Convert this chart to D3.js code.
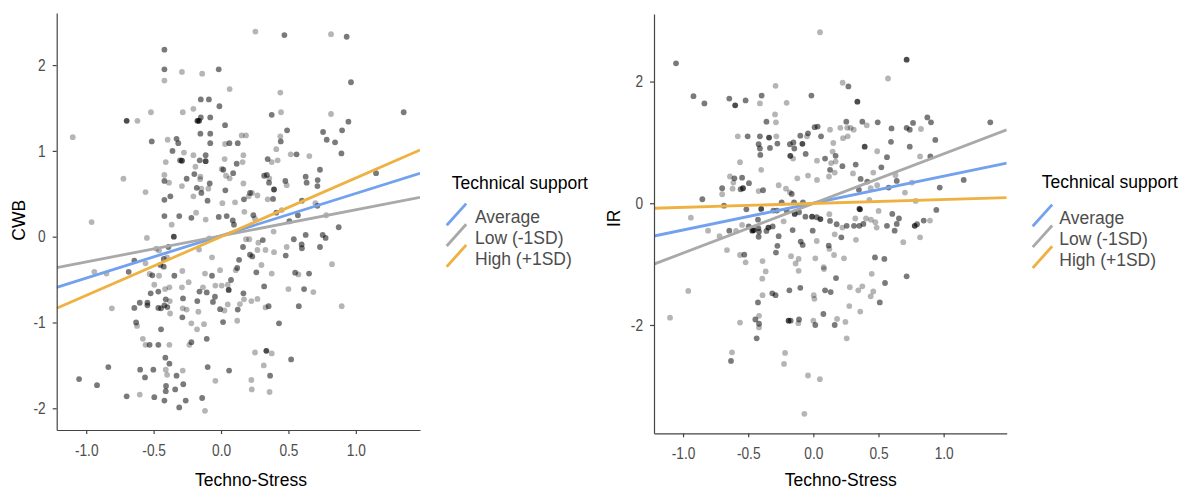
<!DOCTYPE html>
<html><head><meta charset="utf-8">
<script src="https://cdn.jsdelivr.net/npm/d3@7"></script>
<style>body{margin:0;background:#fff} svg{display:block} text{font-family:"Liberation Sans",Arial,sans-serif}</style>
</head><body><svg id="c" width="1193" height="490"></svg>
<script>
// ---------- data ----------
const xTicks = [-1.0, -0.5, 0.0, 0.5, 1.0];
const cwbTicks = [-2, -1, 0, 1, 2];
const irTicks = [-2, 0, 2];
const legendTitle = "Technical support";
const legendLabels = ["Average", "Low (-1SD)", "High (+1SD)"];
const xTitle = "Techno-Stress";
const cwbLineX = [-1.219, 1.476];
const irLineX = [-1.223, 1.484];
const cwbAverage = [-0.59, 0.739];
const cwbLow = [-0.361, 0.459];
const cwbHigh = [-0.835, 1.01];
const irAverage = [-0.538, 0.658];
const irLow = [-1.0, 1.205];
const irHigh = [-0.082, 0.092];
// points: [techno-stress, outcome, shade level]
const cwbPoints = [
[0.255,2.39,1],[0.47,2.35,2],[0.816,2.36,1],[0.932,2.33,2],
[-0.42,2.18,2],[-0.42,1.95,2],[-0.42,1.82,1],[-0.29,1.92,1],[-0.14,1.90,1],[-0.017,1.95,2],[0.964,1.80,2],[0.064,1.72,1],[0.44,1.68,1],
[-0.15,1.60,2],[-0.09,1.60,2],[-0.012,1.52,2],[-0.205,1.49,1],[-0.284,1.45,1],[-0.52,1.45,1],[0.376,1.42,2],[0.445,1.45,1],[0.816,1.43,1],[1.355,1.45,2],
[-0.70,1.35,3],[-0.62,1.35,1],[-0.175,1.35,3],[-0.163,1.35,3],[-0.15,1.39,2],[-0.08,1.39,2],[0.03,1.30,2],[0.945,1.34,2],[0.49,1.24,2],[0.757,1.22,2],[0.898,1.24,2],
[-0.153,1.20,2],[-0.08,1.20,2],[0.153,1.18,1],[0.185,1.18,1],[0.44,1.17,1],[-1.10,1.16,1],[-0.396,1.13,1],[-0.33,1.14,2],[-0.317,1.09,2],[-0.514,1.11,2],[-0.08,1.09,2],[0.062,1.09,2],[0.124,1.09,2],[0.03,1.08,1],[0.443,1.11,2],[0.784,1.13,2],[0.846,1.10,2],
[-0.36,1.0,2],[-0.275,0.98,1],[0.41,1.02,1],[-0.205,0.95,1],[-0.114,0.95,2],[0.166,0.95,1],[0.517,0.96,1],[0.56,0.96,2],[0.655,0.94,1],[0.893,0.97,2],
[-0.41,0.87,1],[-0.304,0.89,2],[-0.29,0.885,3],[-0.158,0.89,2],[-0.114,0.88,3],[0.027,0.905,1],[0.116,0.85,2],[0.16,0.87,1],[0.346,0.905,2],[0.376,0.87,1],[0.42,0.89,1],
[-0.19,0.815,1],[0.005,0.79,1],[0.017,0.78,2],[0.09,0.74,2],[-0.724,0.675,1],[-0.42,0.72,1],[-0.198,0.73,2],[-0.255,0.675,2],[-0.153,0.70,1],[0.037,0.71,1],[0.32,0.71,2],[0.34,0.72,2],[0.734,0.78,2],[0.628,0.70,2],[1.15,0.74,2],
[-0.42,0.65,2],[-0.386,0.63,1],[-0.29,0.59,1],[-0.155,0.67,1],[-0.084,0.62,2],[0.064,0.68,1],[0.166,0.62,1],[0.358,0.68,1],[0.356,0.63,2],[0.477,0.65,2],[0.487,0.60,1],[0.635,0.63,2],[0.717,0.66,2],[0.715,0.59,2],
[-0.56,0.52,1],[-0.18,0.57,2],[-0.146,0.56,1],[-0.146,0.51,2],[-0.094,0.56,1],[0.032,0.54,2],[0.215,0.51,2],[0.393,0.55,3],
[-0.42,0.43,2],[-0.376,0.47,2],[-0.205,0.47,1],[-0.1,0.42,2],[0.01,0.39,1],[0.104,0.40,1],[0.17,0.435,2],[0.205,0.47,1],[0.23,0.51,1],[0.27,0.48,1],[0.346,0.435,1],[0.386,0.44,2],[0.6,0.42,2],[0.7,0.39,1],[0.715,0.36,2],
[-0.42,0.24,2],[-0.31,0.24,2],[-0.185,0.28,1],[-0.22,0.22,2],[-0.114,0.20,1],[-0.017,0.23,2],[0.042,0.24,2],[0.087,0.19,2],[0.096,0.14,2],[0.173,0.29,1],[0.24,0.25,2],[0.252,0.21,1],[0.41,0.28,2],[0.45,0.31,1],[0.57,0.25,2],[0.78,0.25,1],[0.507,0.18,2],[-0.96,0.17,1],[-0.366,0.14,1],[0.39,0.06,1],[0.873,0.11,2],
[-0.55,-0.015,1],[-0.35,0.0,3],[-0.087,-0.02,1],[0.185,-0.03,1],[0.21,-0.03,1],[0.277,-0.07,1],[0.31,-0.04,2],[0.54,-0.03,2],[0.628,0.02,2],[0.754,0.02,2],[0.776,-0.015,2],
[-0.163,-0.15,1],[0.163,-0.12,2],[0.27,-0.155,1],[0.33,-0.155,1],[0.393,-0.18,1],[0.487,-0.12,1],[0.48,-0.22,2],[0.598,-0.09,2],[0.6,-0.135,2],[0.734,-0.12,2],
[-0.643,-0.28,2],[-0.425,-0.26,2],[-0.46,-0.16,1],[-0.40,-0.24,1],[-0.067,-0.24,1],[0.134,-0.27,2],[0.215,-0.21,2],[0.232,-0.23,2],[0.30,-0.33,1],[-0.48,-0.14,1],[-0.39,-0.12,2],
[-0.94,-0.41,1],[-0.85,-0.43,1],[-0.685,-0.41,2],[-0.56,-0.31,1],[-0.45,-0.33,2],[-0.53,-0.435,1],[-0.51,-0.45,2],[-0.425,-0.35,2],[-0.46,-0.455,1],[-0.346,-0.455,2],[-0.287,-0.40,1],[-0.119,-0.43,1],[-0.067,-0.455,2],[-0.007,-0.39,1],[0.109,-0.39,1],[0.12,-0.365,2],[0.262,-0.415,2],[0.376,-0.43,1],[0.55,-0.42,2],[0.574,-0.44,1],[0.653,-0.43,2],[0.823,-0.32,1],
[0.074,-0.505,2],[-0.24,-0.53,1],[-0.495,-0.56,1],[-0.383,-0.59,1],[-0.522,-0.66,2],[-0.465,-0.64,2],[-0.415,-0.61,1],[-0.29,-0.59,1],[-0.16,-0.64,2],[-0.134,-0.59,1],[-0.042,-0.57,1],[0.005,-0.57,1],[0.057,-0.62,3],[0.05,-0.56,1],[0.166,-0.66,2],[0.32,-0.58,2],[0.5,-0.61,1],[0.616,-0.61,2],[0.685,-0.645,1],
[-0.81,-0.835,1],[-0.643,-0.83,2],[-0.603,-0.77,2],[-0.546,-0.77,2],[-0.546,-0.80,2],[-0.465,-0.83,2],[-0.445,-0.835,2],[-0.42,-0.80,2],[-0.41,-0.73,2],[-0.398,-0.82,2],[-0.38,-0.75,1],[-0.282,-0.72,2],[-0.284,-0.835,1],[-0.255,-0.85,1],[-0.176,-0.75,2],[-0.168,-0.875,1],[-0.106,-0.65,2],[-0.06,-0.76,2],[-0.045,-0.70,2],[-0.007,-0.845,2],[0.025,-0.86,1],[0.05,-0.79,1],[0.124,-0.85,2],[0.14,-0.785,1],[0.17,-0.73,1],[0.225,-0.75,1],[0.27,-0.725,1],[0.353,-0.81,2],[0.33,-0.825,1],[0.577,-0.81,2],[0.895,-0.81,1],
[-0.378,-0.895,1],[-0.287,-0.94,2],[0.015,-0.995,2],[0.12,-0.98,1],[0.43,-1.01,2],[-0.63,-1.0,2],[-0.623,-1.04,1],[-0.22,-1.01,1],[-0.126,-1.02,1],[-0.178,-1.08,1],[-0.445,-1.08,2],
[-0.58,-1.19,1],[-0.56,-1.26,1],[-0.53,-1.26,2],[-0.465,-1.26,2],[-0.383,-1.26,1],[-0.22,-1.23,2],[-0.235,-1.26,1],[-0.106,-1.19,2],
[-0.836,-1.52,2],[-0.6,-1.55,2],[-0.564,-1.64,2],[-0.502,-1.55,2],[-0.413,-1.41,2],[-0.383,-1.48,2],[-0.41,-1.55,1],[-0.40,-1.61,1],[-0.33,-1.62,2],[-0.284,-1.56,1],[-0.099,-1.52,2],[0.06,-1.56,2],[0.252,-1.35,1],[0.336,-1.33,3],[0.376,-1.36,1],[0.52,-1.43,2],[0.317,-1.50,1],[0.364,-1.62,2],
[-1.053,-1.66,2],[-0.92,-1.73,2],[-0.603,-1.84,1],[-0.70,-1.86,2],[-0.495,-1.87,2],[-0.408,-1.74,2],[-0.41,-1.80,2],[-0.34,-1.78,2],[-0.28,-1.72,2],[-0.42,-1.91,2],[-0.262,-1.91,2],[-0.31,-1.99,2],[-0.14,-1.88,2],[-0.042,-1.68,1],[0.225,-1.67,1],[0.228,-1.78,1],[0.36,-1.81,1],[-0.119,-2.03,1]
];
const irPoints = [
[-1.054,2.30,2],[0.051,2.81,1],[0.716,2.36,3],[0.573,2.05,1],[0.225,1.98,1],[0.269,1.92,2],[-0.29,1.93,1],[-0.92,1.76,2],[-0.836,1.64,2],[-0.645,1.72,2],[-0.6,1.61,3],[-0.52,1.69,2],[-0.397,1.77,2],[-0.41,1.64,1],[-0.205,1.65,1],[-0.015,1.77,2],[0.338,1.67,3],
[-0.294,1.46,1],[-0.287,1.33,1],[-0.36,1.34,2],[0.01,1.25,2],[0.033,1.26,2],[0.128,1.21,1],[0.207,1.24,1],[0.253,1.34,2],[0.26,1.24,1],[0.286,1.24,1],[0.31,1.21,1],[0.376,1.34,2],[0.41,1.28,1],[0.494,1.33,2],[0.6,1.23,2],[0.716,1.24,2],[0.74,1.21,2],[0.765,1.32,2],[0.826,1.22,1],[0.875,1.41,2],[0.903,1.33,2],[1.358,1.33,2],
[-0.58,1.10,1],[-0.504,1.10,2],[-0.41,1.10,2],[-0.34,1.08,3],[-0.284,1.10,1],[-0.276,0.98,2],[-0.42,0.97,2],[-0.41,0.90,2],[-0.333,0.91,2],[-0.18,0.97,2],[-0.153,1.0,2],[-0.146,0.90,2],[-0.1,1.11,2],[-0.084,0.976,3],[-0.041,1.15,2],[-0.049,1.10,1],[0.059,1.10,2],[0.153,0.99,1],[0.228,1.07,1],[0.264,1.10,1],[0.394,0.93,3],[0.596,1.01,2],[0.74,0.93,2],[0.936,1.04,2],
[-0.407,0.795,2],[-0.177,0.78,3],[-0.156,0.735,1],[-0.059,0.81,2],[0.148,0.85,1],[0.171,0.78,2],[0.09,0.735,2],[0.028,0.70,1],[0.136,0.66,1],[0.171,0.685,1],[0.223,0.61,2],[0.325,0.635,2],[0.49,0.855,1],[0.565,0.757,2],[0.819,0.77,1],[0.898,0.77,2],
[-0.563,0.674,1],[-0.40,0.55,1],[0.128,0.55,2],[0.164,0.504,1],[0.304,0.49,1],[0.522,0.59,2],[0.46,0.504,1],[0.63,0.46,1],[-0.64,0.44,1],[-0.606,0.41,2],[-0.614,0.34,1],[-0.547,0.42,2],[-0.494,0.33,2],[-0.558,0.23,2],[-0.54,0.247,3],[-0.62,0.24,1],[-0.7,0.247,2],[-0.70,0.148,1],[-0.852,0.066,2],[-0.42,0.2,1],[-0.386,0.214,2],[-0.266,0.296,1],[-0.21,0.24,1],[-0.18,0.18,1],[-0.166,0.154,2],[-0.123,0.41,1],[-0.041,0.455,1],[0.028,0.384,1],[0.12,0.44,1],[0.363,0.40,2],[0.414,0.356,2],[0.44,0.247,1],[0.49,0.296,1],[0.578,0.258,2],[0.64,0.367,2],[0.703,0.175,1],[0.757,0.34,1],[0.97,0.258,2],[1.154,0.384,2],[0.35,0.22,2],[0.785,0.038,1],[0.353,-0.09,2],[0.43,0.055,1],[-0.686,-0.04,2],[-0.243,0.016,2],[-0.148,0.016,2],[-0.08,0.016,2],
[-0.94,-0.236,1],[-0.808,-0.45,1],[-0.72,-0.54,1],[-0.645,-0.45,2],[-0.593,-0.455,1],[-0.547,-0.356,1],[-0.514,-0.1,2],[-0.496,-0.38,2],[-0.468,-0.45,3],[-0.458,-0.44,3],[-0.425,-0.27,2],[-0.422,-0.41,2],[-0.417,-0.465,2],[-0.42,-0.55,2],[-0.4,-0.093,3],[-0.36,-0.455,2],[-0.345,-0.4,3],[-0.312,-0.38,2],[-0.307,-0.12,2],[-0.28,-0.12,2],[-0.266,-0.54,2],[-0.276,-0.70,2],[-0.287,-0.81,2],[-0.228,-0.296,1],[-0.205,-0.12,2],[-0.159,-0.44,2],[-0.143,-0.175,3],[-0.11,-0.148,2],[-0.097,-0.63,2],[-0.082,-0.685,2],[-0.061,-0.22,2],[-0.01,-0.22,3],[-0.005,-0.45,2],[0.026,-0.23,2],[0.054,-0.26,3],[0.026,-0.62,1],[0.128,-0.29,2],[0.123,-0.18,1],[0.179,-0.345,2],[0.215,-0.56,2],[0.164,-0.51,1],[0.223,-0.40,1],[0.256,-0.37,2],[0.312,-0.37,2],[0.322,-0.25,1],[0.327,-0.60,1],[0.358,-0.1,3],[0.353,-0.37,2],[0.384,-0.34,2],[0.404,-0.25,1],[0.442,-0.27,1],[0.476,-0.31,1],[0.501,-0.126,1],[0.486,-0.40,1],[0.565,-0.37,2],[0.606,-0.175,2],[0.624,-0.45,2],[0.64,-0.34,2],[0.657,-0.25,2],[0.69,-0.64,1],[0.778,-0.37,3],[0.796,-0.345,2],[0.847,-0.285,2],[0.895,-0.285,1],[0.819,-0.56,1],[0.944,-0.11,2],
[0.118,-0.696,2],[0.123,-0.75,1],[0.159,-0.85,1],[0.235,-0.905,1],[-0.53,-0.845,2],[-0.563,-0.85,1],[-0.52,-0.97,1],[-0.663,-0.77,1],[-0.39,-0.95,1],[-0.171,-0.87,1],[-0.113,-0.915,1],[-0.136,-0.99,1],[-0.113,-1.11,1],[0.015,-0.905,1],[0.079,-1.05,1],[0.082,-1.08,1],[-0.366,-1.12,1],[-0.392,-1.24,1],[0.174,-1.23,2],[0.473,-0.89,2],[0.545,-0.915,2],[0.448,-1.16,1],[0.716,-1.2,2],[0.55,-1.31,2],[0.28,-1.38,1],[0.345,-1.43,1],[0.376,-1.365,1],[0.46,-1.45,1],[0.44,-1.53,1],[0.51,-1.63,2],[0.276,-1.69,1],[0.36,-1.78,1],[0.09,-1.43,2],[0.133,-1.46,2],[0.003,-1.51,1],[0.008,-1.57,1],[-0.1,-1.39,2],[-0.184,-1.43,2],[-0.315,-1.48,2],[-0.29,-1.51,2],[-0.39,-1.51,1],[-0.96,-1.44,1],[-0.425,-1.63,2],[-0.417,-1.85,1],[-0.445,-1.91,2],[-0.417,-1.98,2],[-0.417,-2.04,1],[-0.435,-2.22,2],[-0.563,-1.96,1],[-0.19,-1.93,3],[-0.174,-1.93,2],[-0.11,-1.91,2],[-0.115,-1.97,1],[0,-1.93,1],[0.015,-2.0,2],[0.077,-1.82,2],[0.182,-1.90,1],[0.164,-2.0,2],[0.246,-1.95,1],[0.256,-2.22,1],[-1.1,-1.88,1],[-0.624,-2.45,1],[-0.632,-2.59,2],[-0.217,-2.46,1],[-0.225,-2.64,1],[-0.041,-2.83,1],[0.05,-2.89,1],[-0.069,-3.46,1]
];

// ---------- style ----------
const lineColors = ["#72a1ee", "#a9a9a9", "#eeb142"];
const shadeOpacity = {1: 0.29, 2: 0.52, 3: 0.7};
const axisColor = "#444";
const tickTextColor = "#4d4d4d";
const tickSX = 0.83;

const svg = d3.select("#c");

function drawPanel(o) {
  const x = d3.scaleLinear().domain(o.xd).range([o.x0, o.x1]);
  const y = d3.scaleLinear().domain(o.yd).range([o.y1, o.y0]);
  const g = svg.append("g");
  const clipId = "clip" + o.id;
  svg.append("clipPath").attr("id", clipId).append("rect")
    .attr("x", o.x0).attr("y", o.y0).attr("width", o.x1 - o.x0).attr("height", o.y1 - o.y0);

  g.append("g").selectAll("circle").data(o.points).join("circle")
    .attr("cx", d => x(d[0])).attr("cy", d => y(d[1])).attr("r", 2.9)
    .attr("fill", "#000").attr("fill-opacity", d => shadeOpacity[d[2]]);

  const line = d3.line().x(d => x(d[0])).y(d => y(d[1]));
  const lg = g.append("g").attr("clip-path", `url(#${clipId})`);
  o.lines.forEach((ends, i) => {
    lg.append("path").datum(o.lineX.map((xv, j) => [xv, ends[j]]))
      .attr("d", line).attr("fill", "none")
      .attr("stroke", lineColors[i]).attr("stroke-width", 2.8);
  });

  const xa = g.append("g").attr("transform", `translate(0,${o.y1})`)
    .call(d3.axisBottom(x).tickValues(xTicks).tickFormat(d => d.toFixed(1)).tickSize(4).tickSizeOuter(0).tickPadding(10));
  const ya = g.append("g").attr("transform", `translate(${o.x0},0)`)
    .call(d3.axisLeft(y).tickValues(o.yTicks).tickFormat(d => String(d)).tickSize(4).tickSizeOuter(0));
  [xa, ya].forEach(a => {
    a.select(".domain").attr("stroke", axisColor).attr("stroke-width", 1.2);
    a.selectAll(".tick line").attr("stroke", axisColor).attr("stroke-width", 1.2);
    a.selectAll(".tick text").attr("fill", tickTextColor).attr("font-size", 16.5)
      .attr("font-family", '"Liberation Sans", Arial, sans-serif');
  });
  xa.selectAll(".tick text").attr("transform", `scale(${tickSX},1)`);
  ya.selectAll(".tick text").attr("x", -11 / tickSX).attr("transform", `scale(${tickSX},1)`);

  g.append("text").attr("x", o.xtx).attr("y", o.xty).attr("text-anchor", "middle")
    .attr("font-size", 17.5).attr("fill", "#000").text(xTitle);
  g.append("text").attr("transform", `translate(${o.ytx},${o.yty}) rotate(-90)`)
    .attr("text-anchor", "middle").attr("dy", "0.36em")
    .attr("font-size", 17.5).attr("fill", "#000").text(o.yTitle);

  // legend
  const L = o.legend;
  g.append("text").attr("x", L.tx).attr("y", L.ty).attr("font-size", 17.5).attr("fill", "#000").text(legendTitle);
  legendLabels.forEach((lab, i) => {
    const b = L.b0 + i * L.step;
    g.append("line").attr("x1", L.kx).attr("y1", b + 2).attr("x2", L.kx + 19.5).attr("y2", b - 19.7)
      .attr("stroke", lineColors[i]).attr("stroke-width", 2.8);
    g.append("text").attr("x", L.lx).attr("y", b).attr("font-size", 17.5).attr("fill", "#4d4d4d").text(lab);
  });
}

drawPanel({
  id: "L", x0: 56.7, x1: 420, y0: 13, y1: 430, xd: [-1.219, 1.476], yd: [-2.253, 2.607],
  yTicks: cwbTicks, points: cwbPoints, lineX: cwbLineX, lines: [cwbAverage, cwbLow, cwbHigh],
  xtx: 251, xty: 485.5, ytx: 18.8, yty: 220.3, yTitle: "CWB",
  legend: {tx: 451.7, ty: 189, kx: 446.7, lx: 475, b0: 223.3, step: 20.7}
});
drawPanel({
  id: "R", x0: 654, x1: 1006.7, y0: 14, y1: 433.3, xd: [-1.223, 1.484], yd: [-3.78, 3.11],
  yTicks: irTicks, points: irPoints, lineX: irLineX, lines: [irAverage, irLow, irHigh],
  xtx: 840.8, xty: 486, ytx: 613.7, yty: 218.3, yTitle: "IR",
  legend: {tx: 1041.7, ty: 188.3, kx: 1032.7, lx: 1059.3, b0: 224.3, step: 20.85}
});
</script></body></html>
